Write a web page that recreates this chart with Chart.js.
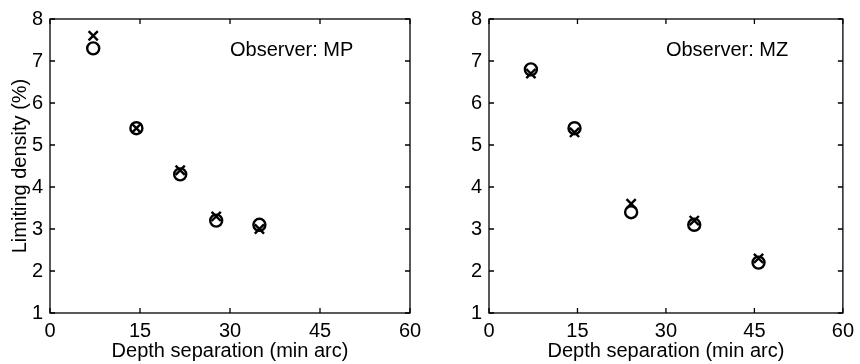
<!DOCTYPE html>
<html>
<head>
<meta charset="utf-8">
<script src="https://cdn.jsdelivr.net/npm/chart.js@4.4.1/dist/chart.umd.min.js"></script>
<style>
  html, body { margin: 0; padding: 0; background: #fff; }
  #wrap { position: relative; width: 860px; height: 364px; overflow: hidden; }
  canvas { position: absolute; top: 0; }
</style>
</head>
<body>
<div id="wrap">
  <canvas id="c1" width="430" height="364" style="left:0"></canvas>
  <canvas id="c2" width="430" height="364" style="left:430px"></canvas>
</div>
<script>
// ---- Data ----
const xTicks = [0, 15, 30, 45, 60];
const yTicks = [1, 2, 3, 4, 5, 6, 7, 8];

const depthMP  = [7.2, 14.4, 21.7, 27.7, 34.9];
const crossMP  = [7.6, 5.4, 4.4, 3.3, 3.0];
const circleMP = [7.3, 5.4, 4.3, 3.2, 3.1];

const depthMZ  = [7.1, 14.5, 24.1, 34.8, 45.7];
const crossMZ  = [6.7, 5.3, 3.6, 3.2, 2.3];
const circleMZ = [6.8, 5.4, 3.4, 3.1, 2.2];

const xTitle = 'Depth separation (min arc)';
const yTitle = 'Limiting density (%)';
const observerMP = 'Observer: MP';
const observerMZ = 'Observer: MZ';

const FONT = 'Liberation Sans, Arial, Helvetica, sans-serif';
const FS = 20;

function pts(xs, ys) { return xs.map((x, i) => ({x: x, y: ys[i]})); }

const framePlugin = {
  id: 'frame',
  afterDraw(chart) {
    const ctx = chart.ctx;
    const a = chart.chartArea;
    const xs = chart.scales.x, ys = chart.scales.y;
    const tl = 5;
    ctx.save();
    ctx.strokeStyle = '#000';
    ctx.lineWidth = 1.3;
    ctx.strokeRect(a.left, a.top, a.right - a.left, a.bottom - a.top);
    ctx.beginPath();
    xTicks.forEach(v => {
      const p = xs.getPixelForValue(v);
      ctx.moveTo(p, a.bottom); ctx.lineTo(p, a.bottom - tl);
      ctx.moveTo(p, a.top); ctx.lineTo(p, a.top + tl);
    });
    yTicks.forEach(v => {
      const p = ys.getPixelForValue(v);
      ctx.moveTo(a.left, p); ctx.lineTo(a.left + tl, p);
      ctx.moveTo(a.right, p); ctx.lineTo(a.right - tl, p);
    });
    ctx.stroke();
    const label = chart.options.plugins.frame.label;
    ctx.fillStyle = '#000';
    ctx.font = FS + 'px ' + FONT;
    ctx.textAlign = 'left';
    ctx.textBaseline = 'middle';
    ctx.fillText(label, xs.getPixelForValue(30), ys.getPixelForValue(7.25));
    ctx.restore();
  }
};

function makeChart(id, depth, cross, circle, label, yAxisWidth, rightPad, showYTitle) {
  return new Chart(document.getElementById(id), {
    type: 'scatter',
    data: {
      datasets: [
        {
          label: 'circle',
          data: pts(depth, circle),
          pointStyle: 'circle',
          pointRadius: 6,
          pointHoverRadius: 6,
          pointBorderWidth: 2.4,
          borderColor: '#000',
          pointBorderColor: '#000',
          pointBackgroundColor: 'rgba(0,0,0,0)',
          backgroundColor: 'rgba(0,0,0,0)'
        },
        {
          label: 'cross',
          data: pts(depth, cross),
          pointStyle: 'crossRot',
          pointRadius: 6.5,
          pointHoverRadius: 6.5,
          pointBorderWidth: 2.4,
          borderColor: '#000',
          pointBorderColor: '#000',
          backgroundColor: '#000'
        }
      ]
    },
    options: {
      responsive: false,
      animation: false,
      devicePixelRatio: 1,
      layout: { padding: { top: 16, right: rightPad, left: 0, bottom: 0 } },
      plugins: {
        legend: { display: false },
        tooltip: { enabled: false },
        frame: { label: label }
      },
      scales: {
        x: {
          type: 'linear',
          min: 0, max: 60,
          afterBuildTicks(s) { s.ticks = xTicks.map(v => ({value: v})); },
          afterFit(s) { s.height = 51; },
          grid: { display: false, drawTicks: false },
          border: { display: false },
          ticks: { color: '#000', font: { family: FONT, size: FS }, padding: 6, maxRotation: 0, autoSkip: false },
          title: { display: true, text: xTitle, color: '#000', font: { family: FONT, size: FS }, padding: { bottom: 1, top: 0 } }
        },
        y: {
          type: 'linear',
          min: 1, max: 8,
          afterBuildTicks(s) { s.ticks = yTicks.map(v => ({value: v})); },
          afterFit(s) { s.width = yAxisWidth; },
          grid: { display: false, drawTicks: false },
          border: { display: false },
          ticks: { color: '#000', font: { family: FONT, size: FS }, padding: 7, autoSkip: false },
          title: { display: showYTitle, text: yTitle, color: '#000', font: { family: FONT, size: FS }, padding: { top: 8, bottom: 0 } }
        }
      }
    },
    plugins: [framePlugin]
  });
}

makeChart('c1', depthMP, crossMP, circleMP, observerMP, 50, 20, true);
makeChart('c2', depthMZ, crossMZ, circleMZ, observerMZ, 59, 12, false);
</script>
</body>
</html>
